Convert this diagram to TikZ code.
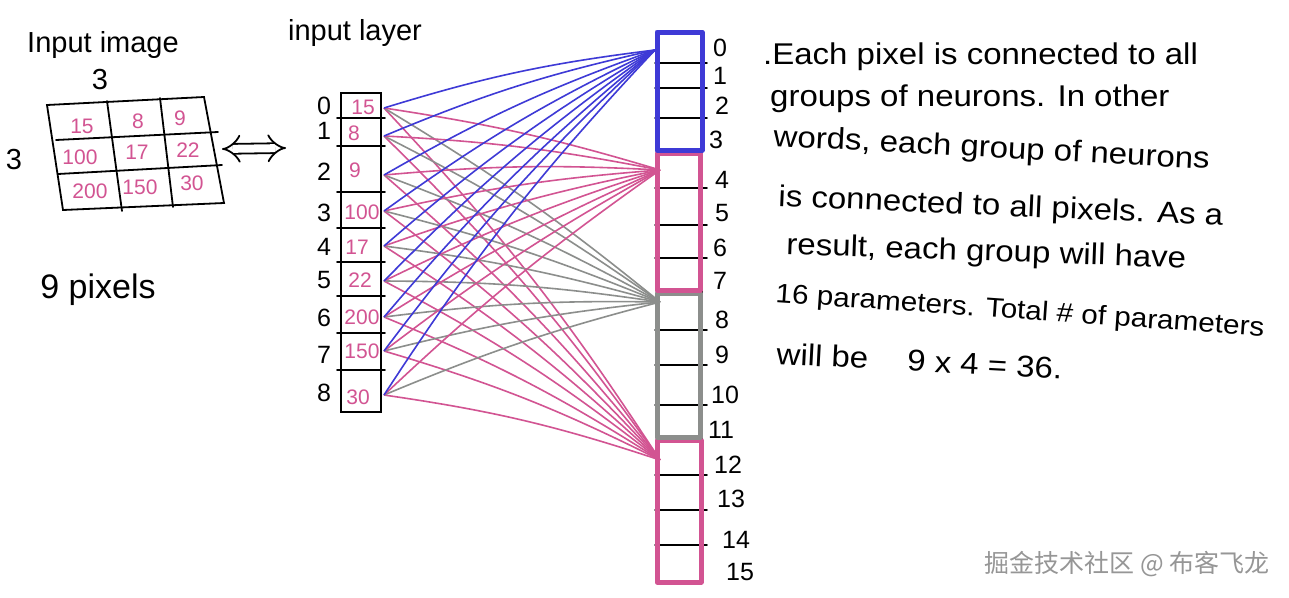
\documentclass[tikz,border=0pt]{standalone}
\usepackage{fontspec}
\setmainfont{Liberation Sans}
\newfontfamily\notefont[FakeStretch=1.1]{Liberation Sans}
\newfontfamily\cjkfont{Noto Sans CJK SC}
\usetikzlibrary{arrows.meta}
\definecolor{nblue}{RGB}{62,58,214}
\definecolor{nmag}{RGB}{210,84,146}
\definecolor{ngray}{RGB}{140,142,140}
\definecolor{wmark}{RGB}{150,150,150}
\begin{document}
\begin{tikzpicture}[x=1pt,y=-1pt,
  ink/.style={line width=1.8pt,black,line cap=round},
  thinink/.style={line width=1.5pt,black,line cap=round},
  bluecon/.style={line width=1.6pt,nblue},
  magcon/.style={line width=1.6pt,nmag},
  graycon/.style={line width=1.6pt,ngray},
  val/.style={text=nmag,font=\fontsize{21}{22}\selectfont,inner sep=0pt},
  idx/.style={font=\fontsize{25}{26}\selectfont,inner sep=0pt},
  lbl/.style={font=\fontsize{29}{30}\selectfont,inner sep=0pt},
  note/.style={font=\notefont\fontsize{30}{32}\selectfont,inner sep=0pt,anchor=base west},
  grp/.style={line width=5pt,line join=round}]
\useasboundingbox[fill=white] (0,0) rectangle (1289,597);

% ---------- input image ----------
\node[lbl] (title1) at (103,45) {Input image};
\node[lbl] (topthree) at (100,80) {3};
\node[lbl] (leftthree) at (14,160) {3};
\node[lbl,font=\fontsize{34}{36}\selectfont] (pixels) at (98,290) {9 pixels};
\coordinate (tl) at (47,105);
\coordinate (tr) at (204,97);
\coordinate (br) at (224,203);
\coordinate (bl) at (63,210);
\draw[ink] (tl) -- (tr) -- (br) -- (bl) -- cycle;
\draw[ink] (107,101) -- (122,211);
\draw[ink] (160,98) -- (173,207);
\draw[ink] (56,140) -- (218,132);
\draw[ink] (58,174) -- (222,165);
\node[val] (v00) at (82,126) {15};
\node[val] (v01) at (138,121) {8};
\node[val] (v02) at (180,118) {9};
\node[val] (v10) at (80,157) {100};
\node[val] (v11) at (137,152) {17};
\node[val] (v12) at (188,150) {22};
\node[val] (v20) at (90,191) {200};
\node[val] (v21) at (140,187) {150};
\node[val] (v22) at (192,183) {30};

% double arrow
\coordinate (da) at (222,149);
\coordinate (db) at (286,148);
\draw[line width=1.8pt,double distance=8pt,{Implies}-{Implies}] (da) -- (db);

% ---------- input layer ----------
\node[lbl] (title2) at (355,33) {input layer};
\draw[ink] (341,93) rectangle (381,412);
\foreach \y in {118,146,192,228,262,296,333,370}
  \draw[ink] (337,\y) -- (385,\y);
\foreach \i/\y in {0/106,1/131,2/172,3/213,4/247,5/280,6/318,7/355,8/393}
  \node[idx] (n\i) at (324,\y) {\i};
\node[val] (w0) at (363,107) {15};
\node[val] (w1) at (354,133) {8};
\node[val] (w2) at (355,170) {9};
\node[val] (w3) at (362,212) {100};
\node[val] (w4) at (357,247) {17};
\node[val] (w5) at (360,280) {22};
\node[val] (w6) at (362,317) {200};
\node[val] (w7) at (362,351) {150};
\node[val] (w8) at (358,397) {30};

\foreach \i/\y in {0/108,1/136,2/175,3/211,4/246,5/281,6/317,7/351,8/395}
  \coordinate (p\i) at (384,\y);

% ---------- groups of neurons ----------
\coordinate (g1) at (655,50);
\coordinate (g2) at (660,170);
\coordinate (g3) at (660,302);
\coordinate (g4) at (660,460);

\foreach \i in {0,...,8} {
  \draw[magcon] (p\i) to[bend left=5] (g4);
}
\foreach \i in {0,...,8} {
  \draw[graycon] (p\i) to[bend left=4] (g3);
}
\foreach \i in {0,...,8} {
  \draw[magcon] (p\i) to[bend left=4] (g2);
}
\foreach \i in {0,...,8} {
  \draw[bluecon] (p\i) to[bend left=5] (g1);
}

% column of neurons
\draw[thinink] (657,32) rectangle (702,582);
\foreach \y in {63,88,118,188,225,258,330,365,405,475,510,545}
  \draw[thinink] (655,\y) -- (707,\y);
\draw[grp,nmag] (657,440) rectangle (701,582);
\draw[grp,ngray] (657,293) rectangle (700,437);
\draw[grp,nmag] (657,153) rectangle (700,290);
\draw[grp,nblue] (657,32) rectangle (702,150);

\foreach \i/\x/\y in {0/720/48,1/720/76,2/722/106,3/716/140,4/722/180,5/722/213,6/720/248,7/720/281,8/722/320,9/722/355,10/725/395,11/721/430,12/728/465,13/731/499,14/736/540,15/740/572}
  \node[idx] (r\i) at (\x,\y) {\i};

% ---------- notes ----------
\node[note] (t1) at (763,64) {.Each pixel is connected to all};
\node[note] (t2) at (770,106) {groups of neurons. In other};
\node[note,rotate=-3] (t3) at (773,146) {words, each group of neurons};
\node[note,rotate=-2.5] (t4) at (778,206) {is connected to all pixels. As a};
\node[note,rotate=-2] (t5) at (786,254) {result, each group will have};
\node[note,rotate=-4,font=\notefont\fontsize{27}{30}\selectfont] (t6) at (775,302) {16 parameters. Total \# of parameters};
\node[note,rotate=-3] (t7) at (776,364) {will be \quad 9 x 4 = 36.};

% watermark
\node[font=\cjkfont\fontsize{25}{26}\selectfont,text=wmark,inner sep=0pt] (wm) at (1127,564) {掘金技术社区 @ 布客飞龙};
\end{tikzpicture}
\end{document}
